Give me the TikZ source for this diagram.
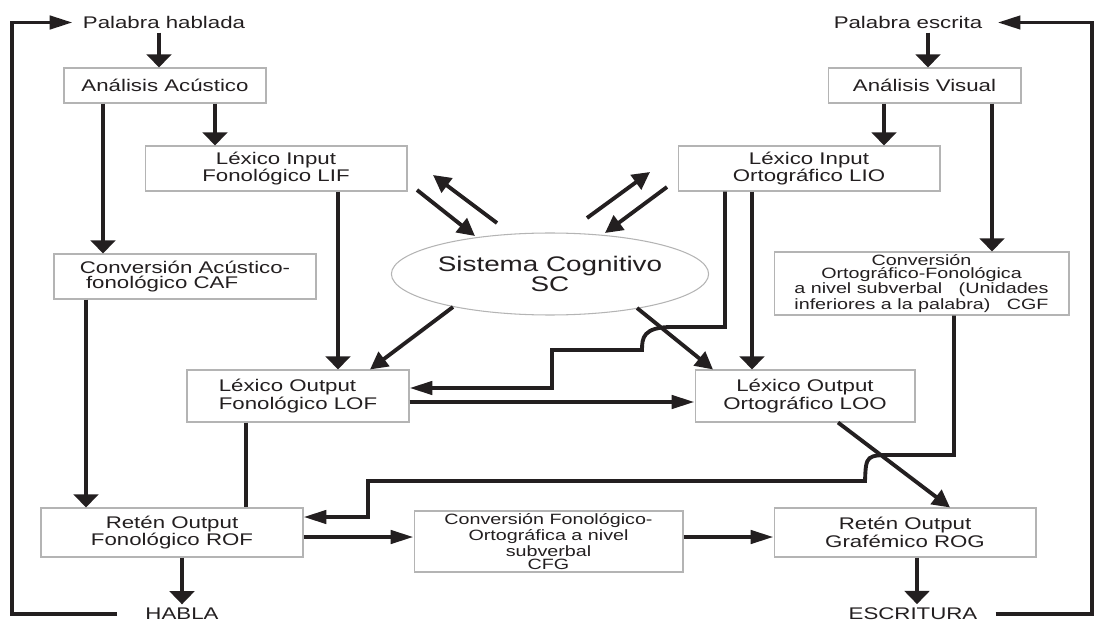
\documentclass[tikz,border=0pt]{standalone}
\usepackage{fontspec}
\setmainfont{Liberation Sans}[FakeStretch=1.32]
\usepackage{xcolor}
\usetikzlibrary{shapes.geometric,arrows.meta}

\definecolor{ink}{HTML}{231F20}
\definecolor{boxgray}{HTML}{B4B4B4}

\tikzset{
  box/.style={draw=boxgray, line width=0.6pt, fill=white, inner sep=0pt, align=center, text=ink, font=\fontsize{9.6}{8.7}\selectfont},
  smallbox/.style={box, font=\fontsize{8.5}{7.2}\selectfont},
  word/.style={inner sep=2pt, text=ink, font=\fontsize{9.6}{8.7}\selectfont},
  flow/.style={draw=ink, line width=2.2pt},
  vin/.style={flow, -{Triangle[length=7.5pt,width=14pt]}},
  hin/.style={flow, -{Triangle[length=13pt,width=7.5pt]}},
  din/.style={flow, -{Triangle[length=10pt,width=10pt]}},
}

\begin{document}
\begin{tikzpicture}[x=0.02cm, y=-0.02cm]
  \useasboundingbox (0,0) rectangle (1101,621);

  % Inputs and outputs
  \node[word] (ph) at (164,22.5) {Palabra hablada};
  \node[word] (pe) at (908,22.5) {Palabra escrita};
  \node[word] (habla) at (182,614) {HABLA};
  \node[word] (escr) at (913,614) {ESCRITURA};

  % Input side
  \node[box, minimum width=4.04cm, minimum height=0.70cm] (aa) at (165,85.5) {Análisis Acústico};
  \node[box, minimum width=3.86cm, minimum height=0.70cm] (av) at (924.5,85.5) {Análisis Visual};
  \node[box, minimum width=5.24cm, minimum height=0.90cm] (lif) at (276,168.5) {Léxico Input\\Fonológico LIF};
  \node[box, minimum width=5.24cm, minimum height=0.90cm] (lio) at (809,168.5) {Léxico Input\\Ortográfico LIO};
  \node[box, align=left, minimum width=5.24cm, minimum height=0.90cm] (caf) at (185,276.5) {Conversión Acústico-\\\ fonológico CAF};
  \node[smallbox, minimum width=5.90cm, minimum height=1.26cm] (cgf) at (921.5,283.5)
    {Conversión\\Ortográfico-Fonológica\\ a nivel subverbal\ \ \ (Unidades\\inferiores a la palabra)\ \ \ CGF};

  % Cognitive system
  \node[ellipse, draw=boxgray, line width=0.6pt, fill=white, inner sep=0pt, text=ink, align=center,
    font=\fontsize{12}{11.5}\selectfont, minimum width=5.78cm, minimum height=1.64cm] (sc) at (550,274)
    {Sistema Cognitivo\\SC};

  % Output side
  \node[box, align=left, minimum width=4.44cm, minimum height=1.04cm] (lof) at (298,396) {Léxico Output\\Fonológico LOF};
  \node[box, minimum width=4.40cm, minimum height=1.04cm] (loo) at (805,396) {Léxico Output\\Ortográfico LOO};
  \node[box, minimum width=5.24cm, minimum height=0.98cm] (rof) at (172,532.5) {Retén Output\\Fonológico ROF};
  \node[smallbox, minimum width=5.38cm, minimum height=1.22cm] (cfg) at (548.5,541.5)
    {Conversión Fonológico-\\Ortográfica a nivel\\subverbal\\CFG};
  \node[box, minimum width=5.24cm, minimum height=0.98cm] (rog) at (905,532.5) {Retén Output\\Grafémico ROG};

  % Auditory route
  \draw[vin] (159,0 |- ph.south) -- (159,0 |- aa.north);
  \draw[vin] (103,0 |- aa.south) -- (103,0 |- caf.north);
  \draw[vin] (215,0 |- aa.south) -- (215,0 |- lif.north);
  \draw[vin] (338,0 |- lif.south) -- (338,0 |- lof.north);
  \draw[vin] (86,0 |- caf.south) -- (86,0 |- rof.north);
  \draw[flow] (246,0 |- lof.south) -- (246,0 |- rof.north);
  \draw[vin] (182,0 |- rof.south) -- (182,0 |- habla.north);

  % Visual route
  \draw[vin] (928,0 |- pe.south) -- (928,0 |- av.north);
  \draw[vin] (884,0 |- av.south) -- (884,0 |- lio.north);
  \draw[vin] (992,0 |- av.south) -- (992,0 |- cgf.north);
  \draw[vin] (752,0 |- lio.south) -- (752,0 |- loo.north);

  % To and from SC
  \draw[din] (417,190) -- (475,236);
  \draw[din] (497,223) -- (433,175);
  \draw[din] (587,218) -- (650,172);
  \draw[din] (667,187) -- (605,233);
  \draw[din] (453,307) -- (370,0 |- lof.north);
  \draw[din] (637,308) -- (713,0 |- loo.north);

  % Crossing lines
  \draw[hin] (725,0 |- lio.south) -- (725,327) -- (672,327)
    .. controls (643,327) and (642,338) .. (642,350) -- (552,350) -- (552,388) -- (lof.east |- 0,388);
  \draw[hin] (lof.east |- 0,402) -- (loo.west |- 0,402);
  \draw[din] (838,0 |- loo.south) -- (950,0 |- rog.north);
  \draw[hin] (954,0 |- cgf.south) -- (954,455) -- (895,455)
    .. controls (866,455) .. (865,481) -- (368,481) -- (368,517) -- (rof.east |- 0,517);
  \draw[hin] (rof.east |- 0,537) -- (cfg.west |- 0,537);
  \draw[hin] (cfg.east |- 0,537) -- (rog.west |- 0,537);
  \draw[vin] (917,0 |- rog.south) -- (917,0 |- escr.north);

  % Feedback loops
  \draw[hin] ([xshift=-0.49cm]habla.west) -- (12,0 |- habla.west) -- (12,0 |- ph.west) -- ([xshift=-0.13cm]ph.west);
  \draw[hin] ([xshift=0.29cm]escr.east) -- (1092,0 |- escr.east) -- (1092,0 |- pe.east) -- ([xshift=0.23cm]pe.east);
\end{tikzpicture}
\end{document}
